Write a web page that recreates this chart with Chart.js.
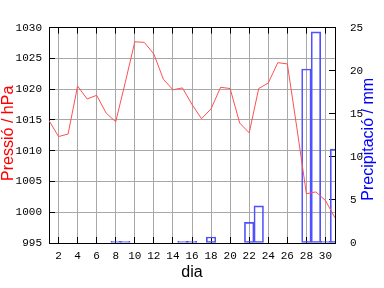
<!DOCTYPE html>
<html>
<head>
<meta charset="utf-8">
<script src="https://cdn.jsdelivr.net/npm/chart.js@4"></script>
<style>
  html, body { margin: 0; padding: 0; background: #fff; }
  canvas { display: block; }
</style>
</head>
<body>
<canvas id="chart" width="384" height="288"></canvas>
<script>
// Daily values for the month
const days = [1, 2, 3, 4, 5, 6, 7, 8, 9, 10, 11, 12, 13, 14, 15, 16,
              17, 18, 19, 20, 21, 22, 23, 24, 25, 26, 27, 28, 29, 30, 31];
const pressure = [1014.9, 1012.3, 1012.7, 1020.5, 1018.4, 1019.0, 1016.1, 1014.7,
                  1021.1, 1027.7, 1027.6, 1025.7, 1021.6, 1019.9, 1020.2, 1017.5,
                  1015.2, 1016.8, 1020.3, 1020.1, 1014.5, 1012.9, 1020.1, 1021.0,
                  1024.3, 1024.1, 1013.7, 1003.0, 1003.3, 1001.9, 999.1];
const rain = [0, 0, 0, 0, 0, 0, 0, 0.2, 0.2, 0, 0, 0, 0, 0, 0.2, 0.2,
              0, 0.7, 0, 0, 0, 2.4, 4.3, 0, 0, 0, 0, 20.2, 24.5, 0.2, 10.9];

// Axis ticks
const dayTicks = [2, 4, 6, 8, 10, 12, 14, 16, 18, 20, 22, 24, 26, 28, 30];
const pressureTicks = [995, 1000, 1005, 1010, 1015, 1020, 1025, 1030];
const rainTicks = [0, 5, 10, 15, 20, 25];

const GRID = '#a8a8a8';
const tickFont = { family: "'Liberation Mono', 'DejaVu Sans Mono', monospace", size: 11 };
const titleFamily = "'Liberation Sans', Arial, sans-serif";

function setTicks(list) {
    return function(scale) {
        scale.ticks = list.map(v => ({ value: v }));
    };
}

// y axis titles both read bottom-to-top, so they are drawn here
const axisTitles = {
    id: 'axisTitles',
    afterDraw(chart) {
        const ctx = chart.ctx;
        const area = chart.chartArea;
        const mid = (area.top + area.bottom) / 2;
        ctx.save();
        ctx.font = '16px ' + titleFamily;
        ctx.textAlign = 'center';
        ctx.textBaseline = 'alphabetic';

        ctx.save();
        ctx.translate(13, mid - 2);
        ctx.rotate(-Math.PI / 2);
        ctx.fillStyle = '#ff0000';
        ctx.fillText('Pressió / hPa', 0, 0);
        ctx.restore();

        ctx.save();
        ctx.translate(373, mid + 4);
        ctx.rotate(-Math.PI / 2);
        ctx.fillStyle = '#0000ff';
        ctx.fillText('Precipitació / mm', 0, 0);
        ctx.restore();

        ctx.restore();
    }
};

const ctx = document.getElementById('chart').getContext('2d');
const chart = new Chart(ctx, {
    type: 'line',
    data: {
        datasets: [{
            type: 'line',
            label: 'Pressió',
            data: days.map((d, i) => ({ x: d, y: pressure[i] })),
            xAxisID: 'x',
            yAxisID: 'y',
            borderColor: '#ff5050',
            borderWidth: 1,
            pointRadius: 0,
            tension: 0
        },
        {
            type: 'bar',
            label: 'Precipitació',
            data: days.map((d, i) => ({ x: d, y: rain[i] })),
            xAxisID: 'x',
            yAxisID: 'yRain',
            borderColor: '#5050ff',
            backgroundColor: 'rgba(0, 0, 0, 0)',
            borderWidth: 1,
            borderSkipped: false,
            barPercentage: 1,
            categoryPercentage: 1
        }]
    },
    options: {
        responsive: false,
        animation: false,
        layout: { padding: 0 },
        plugins: {
            legend: { display: false },
            tooltip: { enabled: false }
        },
        scales: {
            x: {
                type: 'linear',
                position: 'bottom',
                min: 1,
                max: 31,
                offset: false,
                afterBuildTicks: setTicks(dayTicks),
                afterFit: s => { s.height = 45; },
                grid: { color: GRID, tickColor: '#000', tickLength: -6, offset: false },
                border: { color: '#000' },
                ticks: {
                    padding: 12,
                    color: '#000',
                    font: tickFont,
                    maxRotation: 0,
                    autoSkip: false,
                    callback: v => String(v)
                },
                title: {
                    display: true,
                    text: 'dia',
                    color: '#000',
                    font: { family: titleFamily, size: 16 },
                    padding: { top: 0, bottom: 6 }
                }
            },
            xTop: {
                type: 'linear',
                position: 'top',
                min: 1,
                max: 31,
                offset: false,
                afterBuildTicks: setTicks(dayTicks),
                afterFit: s => { s.height = 13; },
                grid: { drawOnChartArea: false, tickColor: '#000', tickLength: -6 },
                border: { color: '#000' },
                ticks: { display: false }
            },
            y: {
                type: 'linear',
                position: 'left',
                min: 995,
                max: 1030,
                afterBuildTicks: setTicks(pressureTicks),
                afterFit: s => { s.width = 49; },
                grid: {
                    color: c => (c.index === 0 || c.index === pressureTicks.length - 1) ? 'rgba(0,0,0,0)' : GRID,
                    tickColor: '#000',
                    tickLength: -6
                },
                border: { color: '#000' },
                ticks: { padding: 13, color: '#000', font: tickFont, callback: v => String(v) }
            },
            yRain: {
                type: 'linear',
                position: 'right',
                min: 0,
                max: 25,
                afterBuildTicks: setTicks(rainTicks),
                afterFit: s => { s.width = 49; },
                grid: { drawOnChartArea: false, tickColor: '#000', tickLength: -6 },
                border: { color: '#000' },
                ticks: { padding: 21, color: '#000', font: tickFont, callback: v => String(v) }
            }
        }
    },
    plugins: [axisTitles]
});
</script>
</body>
</html>
